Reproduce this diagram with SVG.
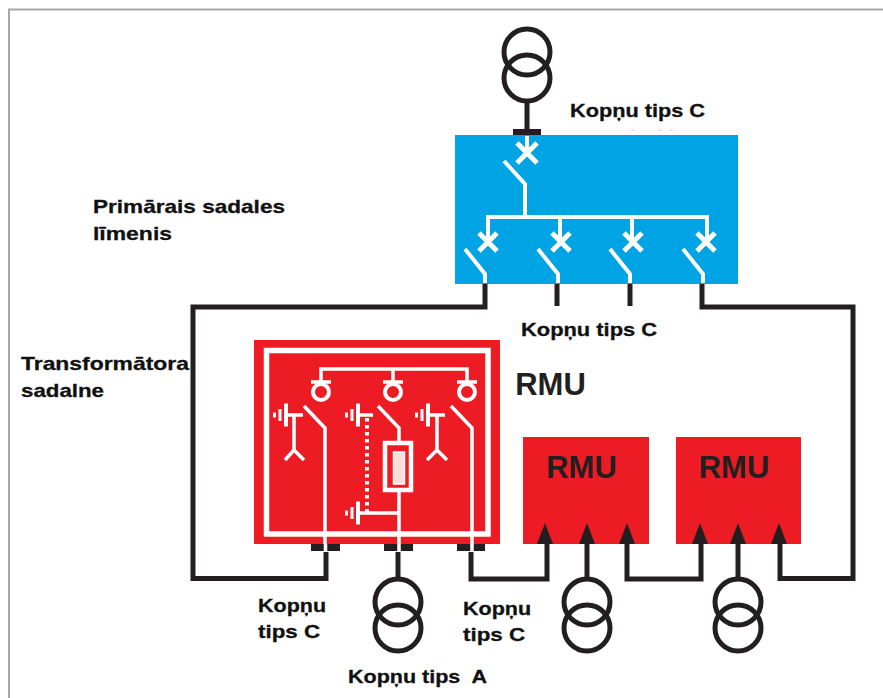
<svg xmlns="http://www.w3.org/2000/svg" width="883" height="698" viewBox="0 0 883 698">
<style>
.lbl{font-family:"Liberation Sans",Arial,sans-serif;font-weight:700;font-size:18.5px;fill:#111;stroke:#111;stroke-width:.3px;white-space:pre}
.rmu{font-family:"Liberation Sans",Arial,sans-serif;font-weight:700;font-size:31px;fill:#231f20;text-anchor:middle}
.k{fill:none;stroke:#231f20;stroke-width:5}
.k4{fill:none;stroke:#231f20;stroke-width:5}
.w{fill:none;stroke:#fff;stroke-width:4}
.x{fill:none;stroke:#fff;stroke-width:5}
.w3{fill:none;stroke:#fff;stroke-width:3.5}
.earth{fill:#fff}
.red{fill:#ed1c24}
.bar{fill:#231f20}
.head{fill:#231f20}
</style>
<defs>
<g id="tx"><circle cx="0" cy="0" r="23" class="k4"/><circle cx="0" cy="26" r="23" class="k4"/></g>
<path id="brk" d="M-10,-10 L10,10 M10,-10 L-10,10" class="x"/>
<path id="brk2" d="M-9,-9 L9,9 M9,-9 L-9,9" class="x"/>
<g id="eL"><rect x="-13" y="-2.500" width="3" height="5" class="earth"/><rect x="-7.500" y="-6" width="3" height="12" class="earth"/><rect x="-2" y="-11.500" width="4" height="23" class="earth"/></g>
<path id="hd" d="M0,0 L-8,21 L8,21 Z" class="head"/>
</defs>

<path id="frame" d="M9,698 V9.500 H883" fill="none" stroke="#a6a6a6" stroke-width="2"/>

<g id="node-primary">
<rect x="455" y="135" width="283" height="149" fill="#00a4e4"/>
<path class="w" d="M527,136 V153"/>
<use href="#brk" x="527" y="153"/>
<path class="w" d="M504,161 L525,184 V216 M488,240 V217 H707 V238 M560,217 V240 M632,217 V240"/>
<use href="#brk2" x="488" y="242"/><use href="#brk2" x="561" y="242"/><use href="#brk2" x="633" y="242"/><use href="#brk2" x="706" y="242"/>
<path class="w" d="M465,249 L485,274 V283 M538,249 L558,274 V283 M610,249 L630,274 V283 M683,249 L703,274 V283"/>
<path d="M631,130 h3 M658,130 h3 M670,130 h3" stroke="#ccc" stroke-width="1"/>
</g>

<g id="node-rmu-detail">
<rect x="254" y="340" width="246" height="204" class="red"/>
<rect x="266.500" y="350.500" width="221.500" height="183.500" fill="none" stroke="#fff" stroke-width="5.500"/>
<path class="w3" d="M321,384 V369 H467 V384 M393,369 V384"/>
<path class="w3" d="M311,382 H331 M383,382 H403 M457,382 H477"/>
<circle cx="321" cy="392" r="8" class="w3" style="stroke-width:4"/><circle cx="393" cy="392" r="8" class="w3" style="stroke-width:4"/><circle cx="467" cy="392" r="8" class="w3" style="stroke-width:4"/>
<path class="w3" d="M304,406 L325,428 V551 M378,406 L399,428 V442 M399,490 V551 M451,406 L472,428 V551"/>
<use href="#eL" x="286" y="415"/><use href="#eL" x="358" y="415"/><use href="#eL" x="428" y="415"/><use href="#eL" x="358" y="513"/>
<path class="w3" d="M286,415 H303 M294,415 V450 M285,460 L294,450 L304,460"/>
<path class="w3" d="M428,415 H445 M437,415 V450 M427,460 L437,450 L447,460"/>
<path class="w3" d="M358,415 H373 M358,513 H398"/>
<path d="M367,418 V513" fill="none" stroke="#fff" stroke-width="4" stroke-dasharray="3.500 3.500"/>
<rect x="385" y="443" width="26" height="47" fill="none" stroke="#fff" stroke-width="4.500"/>
<rect x="393.500" y="452" width="11" height="32" fill="#f9dcdc" stroke="#fff" stroke-width="1.500"/>
</g>

<g id="node-rmu-1"><rect x="523" y="437" width="126" height="107" class="red"/><text class="rmu" x="581.500" y="478">RMU</text></g>
<g id="node-rmu-2"><rect x="676" y="437" width="125" height="107" class="red"/><text class="rmu" x="734" y="478">RMU</text></g>

<g id="connectors">
<path class="k" d="M485,284 V307 H193 V578.500 H326 V552"/>
<path class="k" d="M702,284 V307 H853 V578.500 H780 V540"/>
<path class="k" d="M557,284 V306 M630,284 V306"/>
<path class="k" d="M471,552 V579 H547 V540"/>
<path class="k" d="M627,540 V579 H701 V540"/>
<path class="k" d="M527,100 V130 M398,552 V579 M587,540 V579 M738,540 V579"/>
<rect class="bar" x="513" y="129" width="28" height="6"/>
<rect class="bar" x="311" y="544" width="29" height="7"/><rect class="bar" x="384" y="544" width="29" height="7"/><rect class="bar" x="457" y="544" width="28" height="7"/>
<path class="w3" d="M325.500,544 V551 M399,544 V551 M472,544 V551"/>
<use href="#hd" x="545" y="523"/><use href="#hd" x="587" y="523"/><use href="#hd" x="627" y="523"/>
<use href="#hd" x="700" y="523"/><use href="#hd" x="738" y="523"/><use href="#hd" x="779" y="523"/>
</g>

<g id="node-tx-top"><use href="#tx" x="527" y="52"/></g>
<g id="node-tx-a"><use href="#tx" x="398" y="602"/></g>
<g id="node-tx-1"><use href="#tx" x="587" y="602"/></g>
<g id="node-tx-2"><use href="#tx" x="738" y="602"/></g>

<g id="labels">
<text class="lbl" x="570" y="117" textLength="135" lengthAdjust="spacingAndGlyphs">Kopņu tips C</text>
<text class="lbl" x="521" y="336" textLength="136" lengthAdjust="spacingAndGlyphs">Kopņu tips C</text>
<text class="lbl" x="93" y="213" textLength="192" lengthAdjust="spacingAndGlyphs">Primārais sadales</text>
<text class="lbl" x="93" y="240" textLength="79" lengthAdjust="spacingAndGlyphs">līmenis</text>
<text class="lbl" x="21" y="370" textLength="168" lengthAdjust="spacingAndGlyphs">Transformātora</text>
<text class="lbl" x="21" y="397" textLength="83" lengthAdjust="spacingAndGlyphs">sadalne</text>
<text class="lbl" x="258" y="612" textLength="68" lengthAdjust="spacingAndGlyphs">Kopņu</text>
<text class="lbl" x="258" y="638" textLength="62" lengthAdjust="spacingAndGlyphs">tips C</text>
<text class="lbl" x="463" y="615" textLength="68" lengthAdjust="spacingAndGlyphs">Kopņu</text>
<text class="lbl" x="463" y="641" textLength="62" lengthAdjust="spacingAndGlyphs">tips C</text>
<text class="lbl" x="348" y="683" textLength="139" lengthAdjust="spacingAndGlyphs">Kopņu tips  A</text>
<text class="rmu" x="550.500" y="395">RMU</text>
</g>
</svg>
